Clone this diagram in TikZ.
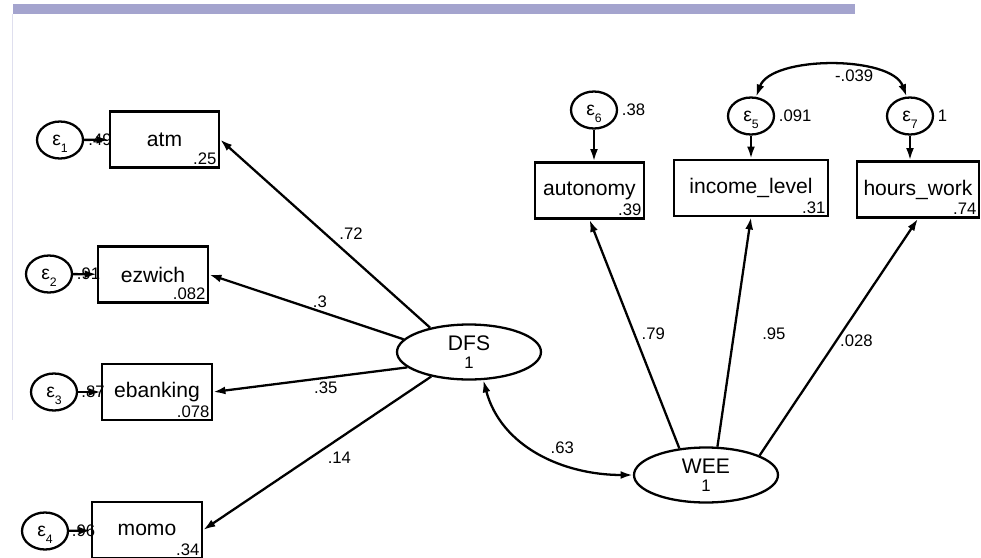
\documentclass[tikz,border=0pt]{standalone}
\usepackage{fontspec}
\setmainfont{Liberation Sans}
\usetikzlibrary{shapes.geometric,arrows.meta}
\definecolor{barblue}{HTML}{A4A4CE}
\newcommand\errlab[1]{{\fontsize{11}{12}\selectfont ε}\smash{\raisebox{-0.7ex}{\fontsize{7}{8}\selectfont #1}}}
\begin{document}
\begin{tikzpicture}[x=0.02cm,y=-0.02cm,>={Latex[length=7pt,width=4.5pt]},line width=1.3pt,
  font=\fontsize{12}{14}\selectfont,
  obs/.style={draw,rectangle,minimum height=1.12cm,inner sep=0pt},
  lat/.style={draw,ellipse,minimum width=2.88cm,minimum height=1.1cm,inner sep=0pt,align=center},
  err/.style={draw,ellipse,minimum width=0.92cm,minimum height=0.74cm,inner sep=0pt},
  num/.style={font=\fontsize{9.5}{11}\selectfont,inner sep=1.5pt},
  rsq/.style={label={[num,anchor=south east]south east:#1}}]
\useasboundingbox (0,0) rectangle (981,558);
\fill[barblue] (13,4) rectangle (855,14);
\draw[barblue!35,line width=0.6pt] (12.5,14) -- (12.5,420);
\node[obs,minimum width=2.18cm,rsq=.25] (atm) at (164.5,139.5) {atm};
\node[obs,minimum width=2.2cm,rsq=.082] (ezwich) at (153,274.5) {ezwich};
\node[obs,minimum width=2.2cm,rsq=.078] (ebanking) at (157,392) {ebanking};
\node[obs,minimum width=2.2cm,rsq=.34] (momo) at (147,530) {momo};
\node[err] (e1) at (60,140) {\errlab{1}};
\node[err] (e2) at (49,274) {\errlab{2}};
\node[err] (e3) at (54,392) {\errlab{3}};
\node[err] (e4) at (45,531) {\errlab{4}};
\draw[->] (e1) -- (atm) node[num,midway,xshift=2pt] {.49};
\draw[->] (e2) -- (ezwich) node[num,midway,xshift=2pt] {.91};
\draw[->] (e3) -- (ebanking) node[num,midway,xshift=2pt] {.87};
\draw[->] (e4) -- (momo) node[num,midway,xshift=2pt] {.96};
\node[lat] (DFS) at (469,352) {DFS\\[-4pt]{\fontsize{9.5}{11}\selectfont 1}};
\node[lat] (WEE) at (706,475) {WEE\\[-4pt]{\fontsize{9.5}{11}\selectfont 1}};
\draw[->] (DFS.148) -- node[num,pos=0.45,above right] {.72} (atm.east);
\draw[->] (DFS.169) -- node[num,pos=0.43,above] {.3} (ezwich.east);
\draw[->] (DFS.194) -- node[num,pos=0.42,below] {.35} (ebanking.east);
\draw[->] (DFS.213) -- node[num,pos=0.47,below right] {.14} (momo.east);
\node[obs,minimum width=2.18cm,rsq=.39] (autonomy) at (589.5,190.5) {autonomy};
\node[obs,minimum width=3.08cm,rsq=.31] (income) at (751,188) {income\_level};
\node[obs,minimum width=2.44cm,rsq=.74] (hours) at (918,189.5) {hours\_work};
\node[err,label={[num]right:.38}] (e6) at (594,110) {\errlab{6}};
\node[err,label={[num]right:.091}] (e5) at (751,116) {\errlab{5}};
\node[err,label={[num]right:1}] (e7) at (910,116) {\errlab{7}};
\draw[->] (e6) -- (e6 |- autonomy.north);
\draw[->] (e5) -- (e5 |- income.north);
\draw[->] (e7) -- (e7 |- hours.north);
\draw[<->] (e5.75) to[out=70,in=110,looseness=0.75] node[num,midway,anchor=north west] {-.039} (e7.100);
\draw[->] (WEE.135) -- node[num,pos=0.5,right,xshift=2pt] {.79} (autonomy.south);
\draw[->] (WEE.68) -- node[num,pos=0.49,right,xshift=14pt] {.95} (income.south);
\draw[->] (WEE.20) -- node[num,pos=0.485,right] {.028} (hours.south);
\draw[<->] (DFS.-63) to[out=-75,in=180] node[num,pos=0.55,above right] {.63} (WEE.west);
\end{tikzpicture}
\end{document}
